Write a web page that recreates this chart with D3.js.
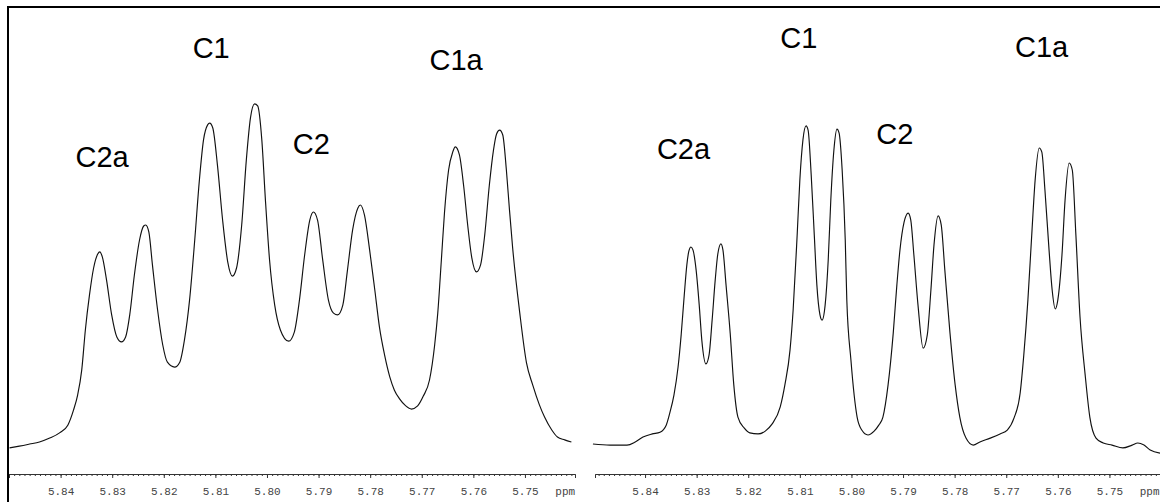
<!DOCTYPE html>
<html>
<head>
<meta charset="utf-8">
<script src="https://cdn.jsdelivr.net/npm/d3@7"></script>
<style>
  html, body { margin: 0; padding: 0; background: #fff; }
  svg { display: block; }
</style>
</head>
<body>
<svg id="chart" width="1160" height="502"></svg>
<script>
// 1H NMR traces (ppm, relative intensity) for the two spectra
const leftPpm = [5.8499, 5.8480, 5.8460, 5.8441, 5.8421, 5.8402, 5.8386, 5.8375, 5.8367, 5.8359,
  5.8352, 5.8344, 5.8336, 5.8328, 5.8324, 5.8319, 5.8311, 5.8301, 5.8291, 5.8282,
  5.8274, 5.8266, 5.8257, 5.8247, 5.8239, 5.8235, 5.8229, 5.8222, 5.8212, 5.8202,
  5.8193, 5.8179, 5.8169, 5.8160, 5.8150, 5.8140, 5.8131, 5.8123, 5.8115, 5.8111,
  5.8105, 5.8096, 5.8086, 5.8076, 5.8067, 5.8059, 5.8049, 5.8040, 5.8032, 5.8024,
  5.8018, 5.8010, 5.8003, 5.7995, 5.7985, 5.7974, 5.7958, 5.7947, 5.7937, 5.7927,
  5.7917, 5.7910, 5.7902, 5.7892, 5.7881, 5.7871, 5.7863, 5.7853, 5.7844, 5.7834,
  5.7824, 5.7819, 5.7811, 5.7801, 5.7791, 5.7782, 5.7772, 5.7762, 5.7753, 5.7743,
  5.7731, 5.7720, 5.7708, 5.7697, 5.7685, 5.7675, 5.7669, 5.7662, 5.7656, 5.7648,
  5.7640, 5.7635, 5.7627, 5.7619, 5.7611, 5.7603, 5.7594, 5.7586, 5.7578, 5.7569,
  5.7561, 5.7555, 5.7549, 5.7543, 5.7536, 5.7530, 5.7524, 5.7510, 5.7497, 5.7485,
  5.7472, 5.7462, 5.7448, 5.7437, 5.7423, 5.7410];
const leftIntensity = [0.6, 1.1, 1.7, 2.3, 3.4, 4.9, 7.1, 11.4, 15.7, 22.9,
  34.3, 44.3, 52.0, 56.0, 56.6, 55.1, 48.6, 38.6, 32.3, 30.9,
  32.3, 38.6, 50.0, 60.0, 64.0, 64.3, 62.3, 52.9, 40.0, 30.0,
  25.1, 23.7, 25.1, 31.4, 42.9, 60.0, 77.1, 88.6, 92.9, 93.4,
  92.0, 81.4, 65.7, 53.7, 49.7, 52.0, 64.3, 82.9, 94.9, 98.9,
  98.3, 88.6, 71.4, 54.3, 41.4, 34.3, 31.1, 33.7, 42.9, 55.7,
  65.7, 68.0, 65.7, 54.3, 42.9, 39.1, 38.6, 41.4, 51.4, 62.9,
  69.1, 70.0, 67.1, 57.1, 45.7, 35.1, 27.1, 20.9, 17.1, 14.6,
  12.6, 11.7, 12.6, 15.4, 20.0, 30.0, 39.1, 54.3, 67.7, 80.0,
  85.1, 86.6, 84.3, 75.7, 64.3, 54.9, 50.9, 52.9, 61.4, 75.7,
  85.7, 90.3, 91.4, 90.0, 80.0, 68.6, 58.0, 39.1, 24.9, 18.6,
  12.9, 9.4, 5.7, 3.7, 2.9, 2.3];

const rightPpm = [5.8501, 5.8468, 5.8435, 5.8419, 5.8404, 5.8386, 5.8371, 5.8359, 5.8352, 5.8344,
  5.8336, 5.8330, 5.8324, 5.8319, 5.8315, 5.8311, 5.8307, 5.8301, 5.8295, 5.8290,
  5.8282, 5.8276, 5.8270, 5.8264, 5.8259, 5.8253, 5.8249, 5.8243, 5.8235, 5.8228,
  5.8220, 5.8208, 5.8197, 5.8181, 5.8167, 5.8154, 5.8138, 5.8129, 5.8119, 5.8113,
  5.8105, 5.8100, 5.8094, 5.8088, 5.8084, 5.8078, 5.8072, 5.8067, 5.8061, 5.8057,
  5.8051, 5.8045, 5.8040, 5.8034, 5.8028, 5.8024, 5.8018, 5.8012, 5.8009, 5.8001,
  5.7989, 5.7980, 5.7968, 5.7956, 5.7947, 5.7939, 5.7929, 5.7919, 5.7912, 5.7906,
  5.7898, 5.7890, 5.7885, 5.7879, 5.7871, 5.7861, 5.7853, 5.7846, 5.7840, 5.7832,
  5.7826, 5.7819, 5.7809, 5.7799, 5.7790, 5.7778, 5.7764, 5.7751, 5.7731, 5.7712,
  5.7698, 5.7685, 5.7673, 5.7666, 5.7658, 5.7650, 5.7644, 5.7636, 5.7631, 5.7625,
  5.7617, 5.7611, 5.7605, 5.7600, 5.7592, 5.7586, 5.7578, 5.7572, 5.7565, 5.7557,
  5.7547, 5.7538, 5.7526, 5.7512, 5.7495, 5.7474, 5.7456, 5.7445, 5.7433, 5.7421,
  5.7402];
const rightIntensity = [1.7, 1.4, 1.4, 2.3, 3.7, 4.6, 5.1, 7.1, 10.6, 15.7,
  23.7, 32.9, 44.3, 52.9, 56.9, 58.0, 57.1, 51.4, 41.4, 31.4,
  24.6, 27.1, 37.1, 48.6, 56.0, 58.9, 57.1, 47.1, 33.4, 18.6,
  9.4, 6.3, 4.9, 4.6, 5.4, 7.4, 12.3, 18.6, 28.6, 40.0,
  62.0, 77.1, 88.6, 92.6, 91.4, 78.6, 61.4, 47.1, 38.6, 37.1,
  41.4, 54.3, 71.4, 85.7, 91.7, 90.6, 80.0, 60.0, 42.9, 25.7,
  9.4, 5.7, 4.3, 5.4, 7.1, 9.4, 18.6, 33.4, 47.1, 57.1,
  65.1, 67.7, 65.7, 55.7, 41.4, 29.1, 32.9, 45.7, 58.6, 66.9,
  64.3, 51.4, 33.4, 18.6, 9.4, 3.4, 1.4, 2.3, 3.4, 4.6,
  5.7, 9.1, 16.3, 27.1, 42.9, 62.9, 77.1, 86.3, 85.1, 74.3,
  57.1, 45.7, 40.3, 42.9, 55.7, 71.4, 82.0, 80.0, 61.4, 38.0,
  21.4, 9.4, 3.4, 2.0, 1.4, 0.6, 1.4, 2.0, 1.4, 0.0,
  -0.9];

// chemical-shift axis
const majorTicks = [5.84, 5.83, 5.82, 5.81, 5.80, 5.79, 5.78, 5.77, 5.76, 5.75];
const majorTickLabels = ["5.84", "5.83", "5.82", "5.81", "5.80", "5.79", "5.78", "5.77", "5.76", "5.75"];
const unitLabel = "ppm";
const unitPpm = 5.7422;
const leftDomain = [5.8500, 5.7403];
const rightDomain = [5.8497, 5.7402];
const intensityDomain = [0, 100];

// multiplet annotations, anchored in data units (ppm, intensity)
const leftLabels = ["C1", "C1a", "C2a", "C2"];
const leftLabelPpm = [5.8144, 5.7685, 5.8371, 5.7950];
const leftLabelIntensity = [112.0, 108.6, 80.9, 84.6];
const rightLabels = ["C1", "C1a", "C2a", "C2"];
const rightLabelPpm = [5.8138, 5.7683, 5.8377, 5.7952];
const rightLabelIntensity = [114.9, 112.3, 83.1, 87.4];

const svg = d3.select("#chart");
const W = 1160, H = 502;
const axisY = 474;
const monoFont = "'Liberation Mono', 'DejaVu Sans Mono', monospace";
const labelFont = "'Liberation Sans', Arial, sans-serif";

const y = d3.scaleLinear().domain(intensityDomain).range([450, 100]);

function drawPanel(domain, range, ppm, intensity, labels, labelPpm, labelIntensity) {
  const x = d3.scaleLinear().domain(domain).range(range);
  const g = svg.append("g");

  // minor ticks every 0.001 ppm
  const lo = Math.min(...domain), hi = Math.max(...domain);
  const minor = d3.range(Math.ceil(lo * 1000), Math.floor(hi * 1000) + 1).map(v => v / 1000);
  g.append("g")
    .attr("transform", `translate(0,${axisY})`)
    .call(d3.axisBottom(x).tickValues(minor).tickSize(2).tickSizeOuter(0).tickFormat(""))
    .call(a => a.selectAll("line, path").attr("stroke", "#333"));

  g.append("g")
    .attr("transform", `translate(0,${axisY})`)
    .call(d3.axisBottom(x).tickValues(majorTicks).tickSize(4).tickSizeOuter(4)
      .tickFormat((d, i) => majorTickLabels[i]))
    .attr("font-family", monoFont)
    .attr("font-size", 11)
    .call(a => a.selectAll("line, path").attr("stroke", "#333"))
    .call(a => a.selectAll("text").attr("y", 21).attr("dy", 0).attr("fill", "#444"));

  g.append("text")
    .attr("x", x(unitPpm))
    .attr("y", axisY + 21)
    .attr("text-anchor", "middle")
    .attr("font-family", monoFont)
    .attr("font-size", 11)
    .attr("fill", "#444")
    .text(unitLabel);

  const pts = ppm.map((p, i) => [p, intensity[i]]);
  g.append("path")
    .datum(pts)
    .attr("fill", "none")
    .attr("stroke", "#111")
    .attr("stroke-width", 1.15)
    .attr("d", d3.line().x(d => x(d[0])).y(d => y(d[1])).curve(d3.curveMonotoneX));

  g.selectAll("text.peak-label")
    .data(labels)
    .join("text")
    .attr("class", "peak-label")
    .attr("font-family", labelFont)
    .attr("font-size", 29)
    .attr("fill", "#000")
    .attr("x", (d, i) => x(labelPpm[i]))
    .attr("y", (d, i) => y(labelIntensity[i]))
    .text(d => d);
}

drawPanel(leftDomain, [9, 575], leftPpm, leftIntensity, leftLabels, leftLabelPpm, leftLabelIntensity);
drawPanel(rightDomain, [595, 1160], rightPpm, rightIntensity, rightLabels, rightLabelPpm, rightLabelIntensity);

// frame: left edge and top edge
svg.append("line").attr("x1", 8).attr("x2", 8).attr("y1", 6).attr("y2", H)
  .attr("stroke", "#000").attr("stroke-width", 2);
svg.append("line").attr("x1", 7).attr("x2", W).attr("y1", 7).attr("y2", 7)
  .attr("stroke", "#000").attr("stroke-width", 2);
</script>
</body>
</html>
